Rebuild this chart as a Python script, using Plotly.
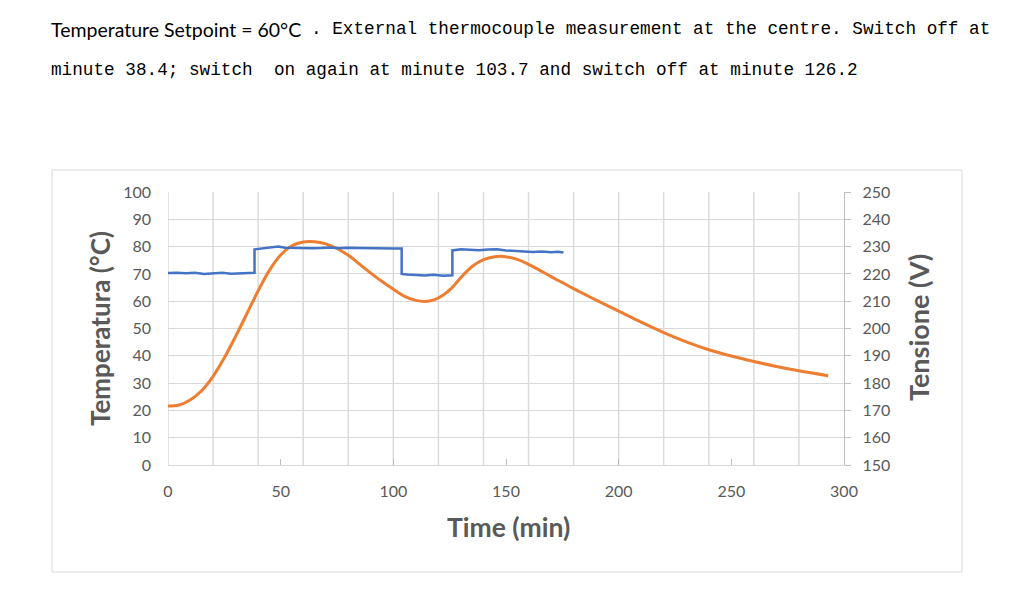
import plotly.graph_objects as go

# Temperature (orange, left axis)
temp_time = [0, 5, 10, 15, 20, 25, 30, 35, 40, 45, 50, 55, 60, 65, 70, 75, 80, 85, 90, 95, 100,
             105, 110, 114, 118, 122, 126, 130, 135, 140, 145, 149, 155, 160, 165, 170, 175, 180,
             185, 190, 195, 200, 210, 220, 230, 240, 250, 260, 270, 280, 293]
temp_vals = [21.6, 22.0, 23.9, 27.3, 32.5, 39.3, 47.1, 55.4, 63.8, 71.3, 76.9, 80.3, 81.7, 81.8,
             81.0, 79.3, 76.8, 73.6, 70.3, 67.2, 64.4, 61.8, 60.3, 59.9, 60.5, 62.2, 64.9, 68.7,
             72.7, 75.2, 76.3, 76.4, 75.3, 73.5, 71.3, 69.0, 66.8, 64.6, 62.5, 60.4, 58.4, 56.4,
             52.3, 48.5, 45.1, 42.2, 39.9, 37.9, 36.1, 34.5, 32.7]

# Voltage (blue, right axis)
volt_time = [0, 4, 8, 12, 16, 20, 24, 28, 32, 36, 38.4, 38.4, 42, 46, 49, 52, 56, 60, 64, 68, 72,
             76, 80, 84, 88, 92, 96, 100, 103.7, 103.7, 106, 110, 114, 118, 122, 126.2, 126.2,
             130, 134, 138, 142, 146, 150, 154, 158, 162, 166, 170, 173, 175.5]
volt_vals = [220.3, 220.4, 220.2, 220.4, 220.0, 220.2, 220.4, 220.1, 220.3, 220.4, 220.4, 229.0,
             229.3, 229.5, 230.0, 229.6, 229.5, 229.6, 229.4, 229.5, 229.7, 229.4, 229.6, 229.5,
             229.4, 229.5, 229.4, 229.3, 229.3, 220.0, 219.8, 219.6, 219.4, 219.7, 219.3, 219.5,
             228.6, 229.0, 228.8, 228.7, 228.9, 229.0, 228.6, 228.3, 228.2, 228.0, 228.2, 227.9,
             228.1, 227.8]

x_ticks = [0, 50, 100, 150, 200, 250, 300]
x_grid = list(range(0, 300, 20))

GRID = "#D9D9D9"
TXT = "#595959"
FONT = "Lato"

fig = go.Figure()
fig.add_trace(go.Scatter(x=temp_time, y=temp_vals, mode="lines",
                         line=dict(color="#ED7D31", width=3, shape="spline", smoothing=1),
                         yaxis="y", showlegend=False))
fig.add_trace(go.Scatter(x=volt_time, y=volt_vals, mode="lines", line=dict(color="#4472C4", width=2.5),
                         yaxis="y2", showlegend=False))

shapes = []
for gx in x_grid:
    shapes.append(dict(type="line", xref="x", yref="paper", x0=gx, x1=gx, y0=0, y1=1,
                       line=dict(color=GRID, width=1.4), layer="below"))
shapes.append(dict(type="rect", xref="paper", yref="paper", x0=-0.1716, x1=1.1746, y0=-0.3919, y1=1.0806,
                   line=dict(color=GRID, width=1)))

annotations = [
    dict(text="Temperature Setpoint = 60°C", xref="paper", yref="paper", x=-0.1760, y=1.597,
         xanchor="left", yanchor="middle", showarrow=False, font=dict(family=FONT, size=19.5, color="#000000")),
    dict(text=". External thermocouple measurement at the centre. Switch off at", xref="paper", yref="paper",
         x=0.2086, y=1.597, xanchor="left", yanchor="middle", showarrow=False,
         font=dict(family="Liberation Mono", size=17.7, color="#000000")),
    dict(text="minute 38.4; switch  on again at minute 103.7 and switch off at minute 126.2", xref="paper",
         yref="paper", x=-0.1760, y=1.447, xanchor="left", yanchor="middle", showarrow=False,
         font=dict(family="Liberation Mono", size=17.7, color="#000000")),
    dict(text="<b>Temperatura (°C)</b>", xref="paper", yref="paper", x=-0.1006, y=0.5018, textangle=-90,
         xanchor="center", yanchor="middle", showarrow=False, font=dict(family=FONT, size=26, color=TXT)),
    dict(text="<b>Tensione (V)</b>", xref="paper", yref="paper", x=1.1095, y=0.5018, textangle=-90,
         xanchor="center", yanchor="middle", showarrow=False, font=dict(family=FONT, size=27, color=TXT)),
    dict(text="<b>Time (min)</b>", xref="paper", yref="paper", x=0.503, y=-0.227,
         xanchor="center", yanchor="middle", showarrow=False, font=dict(family=FONT, size=26.5, color=TXT)),
]

fig.update_layout(
    width=1024, height=603,
    margin=dict(l=168, r=180, t=192, b=138),
    paper_bgcolor="white", plot_bgcolor="white",
    font=dict(family=FONT, size=16, color=TXT),
    shapes=shapes, annotations=annotations,
    xaxis=dict(range=[0, 300], tickvals=x_ticks, showgrid=False, zeroline=False,
               showline=True, linecolor=GRID, linewidth=1.4, ticks="inside", ticklen=6, tickcolor="#BFBFBF",
               ticklabelstandoff=12, tickfont=dict(family=FONT, size=16, color=TXT)),
    yaxis=dict(range=[0, 100], dtick=10, showgrid=True, gridcolor=GRID, gridwidth=1.4, zeroline=False,
               showline=False, ticks="", ticklabelstandoff=16, tickfont=dict(family=FONT, size=16, color=TXT)),
    yaxis2=dict(range=[150, 250], dtick=10, overlaying="y", side="right", showgrid=False, zeroline=False,
                showline=True, linecolor="#BFBFBF", linewidth=1.4, ticks="outside", ticklen=6, tickcolor="#BFBFBF",
                ticklabelstandoff=8, tickfont=dict(family=FONT, size=16, color=TXT)),
)

fig.write_html("out.html")
